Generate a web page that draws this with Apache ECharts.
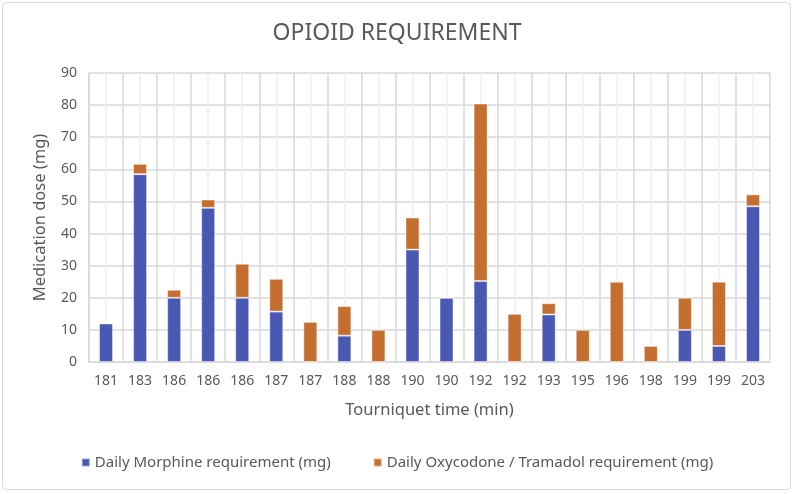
<!DOCTYPE html>
<html>
<head>
<meta charset="utf-8">
<script src="https://cdn.jsdelivr.net/npm/echarts@6/dist/echarts.min.js"></script>
<style>html,body{margin:0;padding:0;background:#fff}#c{width:794px;height:494px}</style>
</head>
<body>
<div id="c"></div>
<script>
const categories = ['181','183','186','186','186','187','187','188','188','190','190','192','192','193','195','196','198','199','199','203'];
const morphine =  [12, 58.5, 20, 48, 20, 15.7, 0, 8.2, 0, 35, 20, 25.2, 0, 14.8, 0, 0, 0, 10, 5, 48.5];
const oxycodone = [0, 3.2, 2.5, 2.6, 10.6, 10.2, 12.5, 9.2, 10, 10, 0, 55.3, 15, 3.5, 10, 25, 5, 10, 20, 3.7];
const yTicks = {min: 0, max: 90, interval: 10};

const FONT = '"Noto Sans", "Open Sans", sans-serif';
const chart = echarts.init(document.getElementById('c'), null, {renderer: 'canvas'});
chart.setOption({
  animation: false,
  backgroundColor: '#ffffff',
  textStyle: {fontFamily: FONT},
  title: {
    text: 'OPIOID REQUIREMENT',
    left: 'center', top: 17,
    textStyle: {fontFamily: FONT, fontSize: 23, fontWeight: 'normal', color: '#595959'}
  },
  graphic: [{
    type: 'rect', silent: true, z: -1,
    shape: {x: 2.5, y: 2.5, width: 788, height: 487, r: 4},
    style: {fill: 'none', stroke: '#d9d9d9', lineWidth: 1}
  }],
  legend: {
    bottom: 19, left: 'center',
    icon: 'rect', itemWidth: 8, itemHeight: 8, itemGap: 42,
    textStyle: {fontFamily: FONT, fontSize: 15, color: '#595959'},
    data: ['Daily Morphine requirement (mg)', 'Daily Oxycodone / Tramadol requirement (mg)']
  },
  grid: {left: 89, right: 24, top: 73, bottom: 132, containLabel: false},
  xAxis: [{
    type: 'category', data: categories,
    name: 'Tourniquet time (min)', nameLocation: 'middle', nameGap: 40,
    nameTextStyle: {fontFamily: FONT, fontSize: 16.5, color: '#595959'},
    axisLine: {show: true, lineStyle: {color: '#d9d9d9', width: 1.5}},
    axisTick: {show: false},
    axisLabel: {fontFamily: FONT, fontSize: 14, color: '#595959', margin: 12, interval: 0},
    splitLine: {show: true, lineStyle: {color: '#d9d9d9', width: 1.5}}
  }, {
    type: 'category', data: categories, position: 'bottom',
    axisLine: {show: false},
    axisLabel: {show: false},
    axisTick: {show: true, inside: true, alignWithLabel: true, length: 289, lineStyle: {color: '#efefef', width: 1.5}},
    splitLine: {show: false}
  }],
  yAxis: {
    type: 'value', min: yTicks.min, max: yTicks.max, interval: yTicks.interval,
    name: 'Medication dose (mg)', nameLocation: 'middle', nameGap: 40,
    nameTextStyle: {fontFamily: FONT, fontSize: 16.5, color: '#595959'},
    axisLine: {show: true, lineStyle: {color: '#d9d9d9', width: 1.5}},
    axisTick: {show: false},
    axisLabel: {fontFamily: FONT, fontSize: 14, color: '#595959', margin: 12},
    splitLine: {show: true, lineStyle: {color: '#d9d9d9', width: 1.5}}
  },
  series: [{
    name: 'Daily Morphine requirement (mg)', type: 'bar', stack: 'total',
    data: morphine, barWidth: 14,
    itemStyle: {color: '#4959b3', borderColor: 'rgba(255,255,255,0.45)', borderWidth: 1}
  }, {
    name: 'Daily Oxycodone / Tramadol requirement (mg)', type: 'bar', stack: 'total',
    data: oxycodone, barWidth: 14,
    itemStyle: {color: '#c46e30', borderColor: 'rgba(255,255,255,0.45)', borderWidth: 1}
  }]
});
</script>
</body>
</html>
